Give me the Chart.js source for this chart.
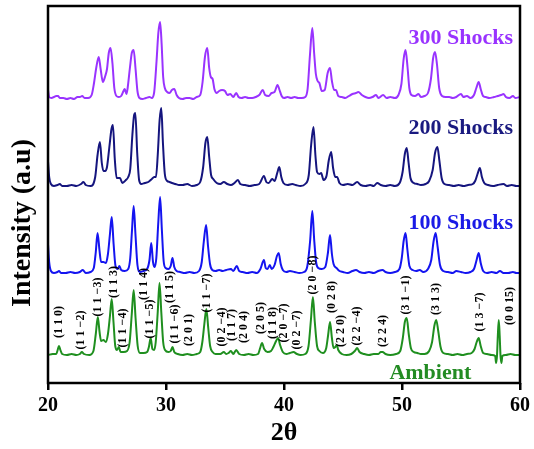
<!DOCTYPE html>
<html lang="en">
<head>
<meta charset="UTF-8">
<title>XRD patterns after shock loading</title>
<script src="https://cdn.jsdelivr.net/npm/chart.js"></script>
<style>
  body { margin: 0; background: #fff; }
</style>
</head>
<body>
<canvas id="xrdChart" width="534" height="449"></canvas>
<script>
  // [2θ (deg), intensity above the pattern's own baseline (a.u.)]
  const ambient = [
    [20.0, 1], [20.4, 2], [20.7, 2], [20.82, 6], [20.93, 10], [21.05, 6], [21.2, 2], [21.6, 1],
    [22.0, 2], [22.4, 1], [22.7, 2], [22.87, 4], [23.05, 2], [23.5, 1], [23.85, 5], [24.05, 22],
    [24.22, 39], [24.37, 24], [24.5, 15], [24.7, 16], [24.9, 14], [25.08, 22], [25.25, 40], [25.4, 57],
    [25.55, 34], [25.7, 10], [25.85, 6], [26.0, 9], [26.15, 4], [26.4, 4], [26.7, 5], [26.92, 14],
    [27.1, 42], [27.26, 66], [27.42, 38], [27.6, 10], [27.8, 3], [28.1, 3], [28.4, 4], [28.55, 9],
    [28.7, 18], [28.85, 7], [29.0, 6], [29.13, 14], [29.3, 44], [29.45, 73], [29.6, 44], [29.76, 14],
    [29.92, 6], [30.2, 4], [30.4, 5], [30.55, 9], [30.7, 4], [31.0, 2], [31.4, 1], [31.8, 2],
    [32.2, 1], [32.6, 2], [32.9, 4], [33.08, 14], [33.25, 32], [33.42, 47], [33.58, 28], [33.74, 10],
    [33.95, 4], [34.2, 2], [34.6, 2], [34.9, 4], [35.1, 2], [35.3, 3], [35.5, 5], [35.7, 2],
    [35.95, 6], [36.2, 2], [36.6, 1], [37.0, 2], [37.4, 1], [37.8, 2], [37.98, 8], [38.14, 13],
    [38.32, 7], [38.6, 4], [38.9, 5], [39.1, 9], [39.33, 15], [39.5, 18], [39.67, 11], [39.9, 4],
    [40.2, 2], [40.5, 3], [40.8, 4], [41.1, 2], [41.4, 1], [41.8, 2], [42.08, 10], [42.28, 36],
    [42.45, 59], [42.61, 34], [42.8, 10], [43.0, 5], [43.3, 3], [43.58, 8], [43.74, 21], [43.9, 34],
    [44.06, 18], [44.2, 8], [44.35, 9], [44.47, 11], [44.6, 6], [44.9, 2], [45.3, 1], [45.7, 2],
    [46.0, 5], [46.2, 8], [46.4, 4], [46.8, 2], [47.2, 1], [47.6, 2], [48.0, 2], [48.2, 4],
    [48.35, 4], [48.6, 2], [49.0, 1], [49.5, 2], [49.85, 5], [50.07, 18], [50.24, 34], [50.4, 38],
    [50.57, 22], [50.75, 8], [51.0, 4], [51.3, 3], [51.6, 2], [51.9, 2], [52.3, 5], [52.55, 14],
    [52.74, 30], [52.9, 36], [53.07, 25], [53.27, 9], [53.5, 3], [53.9, 2], [54.3, 1], [54.7, 2],
    [55.1, 1], [55.5, 2], [55.9, 3], [56.15, 7], [56.33, 14], [56.5, 18], [56.67, 10], [56.88, 3],
    [57.2, 2], [57.6, 1], [57.9, 0], [57.97, -7], [58.05, 0], [58.12, 20], [58.2, 36], [58.28, 20],
    [58.35, 0], [58.43, -7], [58.5, 0], [58.8, 1], [59.2, 2], [59.6, 1], [60.0, 1]
  ];

  const shocks100 = [
    [20.0, 30], [20.1, 12], [20.25, 3], [20.5, 1], [20.8, 2], [20.93, 3], [21.1, 1], [21.5, 1],
    [21.9, 2], [22.3, 1], [22.7, 2], [22.95, 4], [23.2, 1], [23.6, 2], [23.88, 6], [24.05, 22],
    [24.2, 41], [24.36, 24], [24.5, 12], [24.7, 12], [24.9, 11], [25.08, 20], [25.25, 40], [25.4, 57],
    [25.56, 30], [25.72, 8], [25.9, 5], [26.05, 8], [26.2, 4], [26.5, 3], [26.8, 5], [26.97, 16],
    [27.12, 44], [27.26, 68], [27.41, 40], [27.58, 9], [27.8, 2], [28.1, 3], [28.4, 5], [28.6, 14],
    [28.75, 31], [28.9, 12], [29.05, 7], [29.18, 16], [29.34, 50], [29.5, 77], [29.65, 44], [29.8, 13],
    [29.97, 6], [30.2, 5], [30.4, 8], [30.55, 16], [30.7, 7], [30.9, 3], [31.2, 2], [31.6, 1],
    [32.0, 2], [32.4, 1], [32.8, 3], [33.03, 12], [33.2, 32], [33.4, 49], [33.56, 28], [33.73, 10],
    [33.92, 4], [34.2, 3], [34.5, 4], [34.8, 3], [35.1, 4], [35.5, 5], [35.7, 3], [36.0, 8],
    [36.2, 3], [36.5, 2], [36.9, 1], [37.3, 2], [37.7, 1], [38.0, 5], [38.3, 14], [38.45, 6],
    [38.6, 5], [38.8, 9], [38.95, 5], [39.2, 9], [39.4, 18], [39.55, 21], [39.72, 10], [39.9, 4],
    [40.2, 2], [40.5, 3], [40.9, 2], [41.3, 1], [41.7, 2], [41.98, 8], [42.22, 34], [42.4, 63],
    [42.56, 34], [42.72, 12], [42.9, 6], [43.2, 5], [43.5, 7], [43.72, 21], [43.9, 39], [44.06, 20],
    [44.2, 10], [44.45, 6], [44.7, 3], [45.0, 2], [45.4, 1], [45.8, 3], [46.1, 4], [46.4, 2],
    [46.8, 1], [47.2, 2], [47.6, 1], [48.0, 3], [48.35, 4], [48.6, 2], [49.0, 1], [49.4, 2],
    [49.78, 5], [49.98, 16], [50.14, 33], [50.3, 41], [50.46, 24], [50.63, 8], [50.9, 4], [51.2, 3],
    [51.5, 4], [51.8, 2], [52.2, 5], [52.48, 14], [52.68, 33], [52.85, 41], [53.02, 27], [53.22, 9],
    [53.5, 3], [53.9, 2], [54.3, 1], [54.6, 3], [55.0, 2], [55.4, 1], [55.8, 2], [56.1, 5],
    [56.3, 13], [56.5, 21], [56.67, 11], [56.88, 3], [57.2, 1], [57.6, 2], [58.0, 1], [58.3, 3],
    [58.6, 1], [59.0, 1], [59.4, 2], [59.7, 1], [60.0, 1]
  ];

  const shocks200 = [
    [20.0, 26], [20.1, 10], [20.25, 3], [20.5, 1], [20.8, 2], [21.0, 3], [21.2, 1], [21.6, 1],
    [22.0, 2], [22.4, 1], [22.8, 3], [23.0, 5], [23.2, 2], [23.6, 1], [24.0, 10], [24.2, 32],
    [24.4, 45], [24.56, 24], [24.7, 16], [24.85, 16], [25.0, 20], [25.2, 40], [25.38, 58], [25.5, 62],
    [25.66, 28], [25.82, 9], [25.95, 9], [26.1, 9], [26.3, 4], [26.6, 7], [26.8, 10], [26.97, 18],
    [27.15, 52], [27.3, 72], [27.4, 74], [27.56, 34], [27.72, 7], [27.9, 3], [28.2, 4], [28.5, 5],
    [28.8, 8], [29.0, 10], [29.15, 10], [29.3, 32], [29.46, 67], [29.6, 79], [29.74, 44], [29.9, 13],
    [30.1, 6], [30.3, 5], [30.5, 4], [30.8, 3], [31.1, 2], [31.4, 2], [31.8, 3], [32.2, 1],
    [32.6, 2], [32.9, 5], [33.15, 20], [33.34, 44], [33.5, 50], [33.66, 30], [33.82, 12], [34.0, 8],
    [34.3, 4], [34.6, 3], [34.9, 5], [35.2, 3], [35.5, 2], [35.8, 4], [36.1, 7], [36.3, 3],
    [36.7, 2], [37.1, 1], [37.5, 2], [37.9, 3], [38.3, 11], [38.5, 5], [38.7, 4], [39.0, 8],
    [39.2, 6], [39.45, 15], [39.6, 20], [39.77, 10], [39.95, 4], [40.3, 2], [40.7, 3], [41.0, 2],
    [41.4, 1], [41.8, 3], [42.1, 12], [42.3, 42], [42.5, 60], [42.66, 32], [42.8, 15], [43.0, 13],
    [43.15, 14], [43.35, 7], [43.6, 11], [43.8, 27], [44.0, 35], [44.16, 19], [44.35, 10], [44.5, 10],
    [44.7, 4], [45.0, 2], [45.4, 3], [45.8, 2], [46.2, 5], [46.5, 2], [46.9, 1], [47.3, 2],
    [47.6, 1], [47.9, 4], [48.2, 2], [48.6, 1], [49.0, 2], [49.4, 1], [49.8, 4], [50.05, 15],
    [50.24, 33], [50.4, 39], [50.56, 24], [50.72, 9], [51.0, 4], [51.3, 3], [51.6, 2], [52.0, 3],
    [52.3, 6], [52.6, 17], [52.8, 34], [53.0, 40], [53.16, 27], [53.36, 9], [53.6, 3], [54.0, 2],
    [54.4, 1], [54.8, 2], [55.2, 1], [55.6, 2], [56.0, 3], [56.2, 6], [56.4, 13], [56.6, 19],
    [56.77, 10], [56.97, 4], [57.3, 2], [57.7, 1], [58.1, 2], [58.6, 3], [58.9, 1], [59.3, 2],
    [59.7, 1], [60.0, 1]
  ];

  const shocks300 = [
    [20.0, 9], [20.1, 2], [20.3, 1], [20.5, 2], [20.7, 3], [20.85, 3], [21.0, 1], [21.3, 1],
    [21.6, 0], [21.9, 1], [22.2, 0], [22.5, 2], [22.7, 2], [22.9, 3], [23.1, 1], [23.4, 1],
    [23.7, 4], [23.9, 16], [24.1, 32], [24.3, 42], [24.46, 30], [24.65, 17], [24.85, 23], [25.0, 30],
    [25.15, 46], [25.3, 51], [25.46, 36], [25.62, 11], [25.8, 3], [26.0, 2], [26.2, 3], [26.4, 8],
    [26.5, 10], [26.65, 5], [26.75, 11], [26.95, 32], [27.1, 46], [27.26, 49], [27.42, 30], [27.58, 8],
    [27.75, 1], [28.0, 0], [28.3, 1], [28.6, 2], [28.8, 1], [29.0, 7], [29.2, 38], [29.35, 66],
    [29.5, 77], [29.63, 55], [29.76, 22], [29.9, 11], [30.1, 7], [30.3, 6], [30.5, 9], [30.7, 10],
    [30.9, 4], [31.1, 1], [31.4, 0], [31.7, 1], [32.0, 1], [32.3, 0], [32.6, 2], [32.9, 4],
    [33.1, 17], [33.3, 42], [33.5, 51], [33.66, 31], [33.8, 22], [33.95, 20], [34.1, 10], [34.3, 6],
    [34.5, 8], [34.75, 9], [35.0, 8], [35.2, 4], [35.45, 5], [35.7, 2], [35.95, 6], [36.15, 2],
    [36.4, 1], [36.7, 2], [37.0, 1], [37.3, 1], [37.6, 2], [37.9, 4], [38.2, 9], [38.4, 4],
    [38.7, 3], [38.95, 6], [39.2, 7], [39.45, 14], [39.62, 9], [39.8, 3], [40.0, 1], [40.3, 2],
    [40.6, 1], [40.9, 2], [41.2, 1], [41.5, 1], [41.8, 2], [42.0, 10], [42.2, 44], [42.4, 71],
    [42.56, 45], [42.7, 25], [42.85, 18], [43.0, 16], [43.2, 8], [43.45, 9], [43.7, 26], [43.9, 31],
    [44.06, 18], [44.25, 9], [44.4, 9], [44.6, 3], [44.9, 2], [45.2, 1], [45.5, 3], [45.8, 5],
    [46.1, 6], [46.3, 7], [46.6, 4], [46.9, 2], [47.2, 1], [47.5, 2], [47.8, 4], [48.0, 1],
    [48.4, 4], [48.7, 1], [49.0, 2], [49.4, 1], [49.7, 4], [49.95, 15], [50.14, 40], [50.3, 49],
    [50.46, 33], [50.62, 11], [50.8, 4], [51.1, 3], [51.4, 5], [51.6, 2], [51.9, 3], [52.2, 6],
    [52.45, 20], [52.64, 41], [52.8, 47], [52.96, 35], [53.15, 11], [53.4, 3], [53.7, 2], [54.0, 2],
    [54.3, 1], [54.6, 2], [55.0, 5], [55.2, 2], [55.5, 3], [55.8, 1], [56.1, 4], [56.3, 11],
    [56.5, 17], [56.67, 10], [56.87, 3], [57.1, 2], [57.4, 1], [57.8, 2], [58.1, 3], [58.4, 4],
    [58.6, 5], [58.8, 2], [59.1, 1], [59.4, 3], [59.6, 1], [60.0, 2]
  ];

  // vertical offset of each pattern in the stack
  const baseAmbient = 27;
  const base100 = 109;
  const base200 = 196;
  const base300 = 284;

  // Miller indices of the ambient reflections, placed at (2θ, level)
  const hklLabels = [
    '(1 1 0)', '(1 1 −2)', '(1 1 −3)', '(1 1 3)', '(1 1 −4)', '(1 1 4)', '(1 1 −5)',
    '(1 1 5)', '(1 1 −6)', '(2 0 1)', '(1 1 −7)', '(0 2 −4)', '(1 1 7)', '(2 0 4)',
    '(2 0 5)', '(1 1 8)', '(2 0 −7)', '(0 2 −7)', '(2 0 −8)', '(0 2 8)', '(2 2 0)',
    '(2 2 −4)', '(2 2 4)', '(3 1 −1)', '(3 1 3)', '(1 3 −7)', '(0 0 15)'
  ];
  const hklTheta = [
    20.93, 22.78, 24.22, 25.57, 26.33, 28.1, 28.6, 30.3, 30.72, 31.98, 33.5, 34.77, 35.6, 36.62,
    38.06, 39.07, 40.0, 41.1, 42.45, 44.05, 44.8, 46.16, 48.35, 50.3, 52.9, 56.6, 59.16
  ];
  const hklLevel = [
    61, 53, 86, 101, 55, 99, 64, 96, 59, 53, 90, 56, 58, 56,
    65, 60, 60, 53, 108, 86, 52, 57, 52, 88, 84, 71, 77
  ];

  const seriesNames = ['Ambient', '100 Shocks', '200 Shocks', '300 Shocks'];
  const nameTheta = [55.87, 59.41, 59.41, 59.41];
  const nameLevel = [10, 160, 255, 345];

  const lineColors = ['#1f8f1f', '#1414f0', '#15157e', '#9933ff'];
  const textColors = ['#238b23', '#1a1ae6', '#1a1a80', '#9933ff'];
  const serif = '"Liberation Serif", "Times New Roman", serif';

  function stack(points, base) {
    return points.map(([t, i]) => ({ x: t, y: i + base }));
  }

  const textLayer = {
    id: 'textLayer',
    afterDatasetsDraw(chart) {
      const { ctx, chartArea: a, scales: { x, y } } = chart;
      ctx.save();

      // closed frame round the plot
      ctx.strokeStyle = '#000';
      ctx.lineWidth = 2.5;
      ctx.strokeRect(a.left, a.top, a.right - a.left, a.bottom - a.top);

      // reflection indices, vertical
      ctx.fillStyle = '#000';
      ctx.font = 'bold 12px ' + serif;
      ctx.textAlign = 'center';
      ctx.textBaseline = 'middle';
      hklLabels.forEach((txt, i) => {
        ctx.save();
        ctx.translate(x.getPixelForValue(hklTheta[i]), y.getPixelForValue(hklLevel[i]));
        ctx.rotate(-Math.PI / 2);
        ctx.fillText(txt, 0, 0);
        ctx.restore();
      });

      // pattern names
      ctx.font = 'bold 22px ' + serif;
      ctx.textAlign = 'right';
      seriesNames.forEach((name, i) => {
        ctx.fillStyle = textColors[i];
        ctx.fillText(name, x.getPixelForValue(nameTheta[i]), y.getPixelForValue(nameLevel[i]));
      });

      // y axis title
      ctx.fillStyle = '#000';
      ctx.font = 'bold 28px ' + serif;
      ctx.textAlign = 'center';
      ctx.translate(23, 223);
      ctx.rotate(-Math.PI / 2);
      ctx.fillText('Intensity (a.u)', 0, 0);
      ctx.restore();
    }
  };

  const ctx = document.getElementById('xrdChart').getContext('2d');
  new Chart(ctx, {
    type: 'line',
    data: {
      datasets: [
        { label: seriesNames[0], data: stack(ambient, baseAmbient), borderColor: lineColors[0] },
        { label: seriesNames[1], data: stack(shocks100, base100), borderColor: lineColors[1] },
        { label: seriesNames[2], data: stack(shocks200, base200), borderColor: lineColors[2] },
        { label: seriesNames[3], data: stack(shocks300, base300), borderColor: lineColors[3] }
      ]
    },
    options: {
      responsive: false,
      animation: false,
      layout: { padding: { top: 6, right: 12, left: 0, bottom: 0 } },
      elements: {
        point: { radius: 0 },
        line: { borderWidth: 2, cubicInterpolationMode: 'monotone', fill: false }
      },
      plugins: {
        legend: { display: false },
        tooltip: { enabled: false }
      },
      scales: {
        x: {
          type: 'linear',
          min: 20,
          max: 60,
          afterFit(scale) { scale.height = 66; },
          ticks: {
            stepSize: 10,
            color: '#000',
            padding: 4,
            font: { family: serif, size: 20, weight: 'bold' }
          },
          grid: {
            drawOnChartArea: false,
            drawTicks: true,
            tickLength: 7,
            color: '#000',
            lineWidth: 2.5
          },
          border: { display: false },
          title: {
            display: true,
            text: '2θ',
            color: '#000',
            padding: { top: 0, bottom: 0 },
            font: { family: serif, size: 26, weight: 'bold' }
          }
        },
        y: {
          min: 0,
          max: 377,
          afterFit(scale) { scale.width = 48; },
          ticks: { display: false },
          grid: { display: false },
          border: { display: false }
        }
      }
    },
    plugins: [textLayer]
  });
</script>
</body>
</html>
